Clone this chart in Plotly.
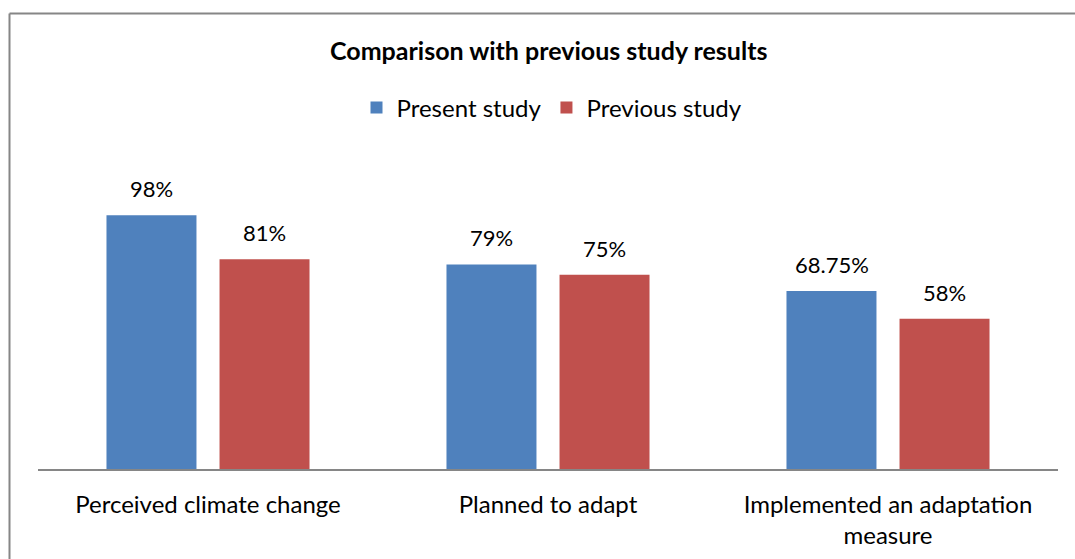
import plotly.graph_objects as go

categories = ["Perceived climate change", "Planned to adapt", "Implemented an adaptation<br>measure"]
present_values = [98, 79, 68.75]
previous_values = [81, 75, 58]
present_labels = ["98%", "79%", "68.75%"]
previous_labels = ["81%", "75%", "58%"]
series_names = ["Present study", "Previous study"]
colors = ["#4F81BD", "#C0504D"]

FONT = "Lato"
W, H = 1075, 559
L, R, T, B = 38, 17, 210, 90
plot_w = W - L - R
plot_h = H - T - B

fig = go.Figure()
fig.add_trace(go.Bar(x=categories, y=present_values, name=series_names[0],
                     marker=dict(color=colors[0], line=dict(width=0))))
fig.add_trace(go.Bar(x=categories, y=previous_values, name=series_names[1],
                     marker=dict(color=colors[1], line=dict(width=0))))

annotations = []
slot = 113
for vals, labs, shift in [(present_values, present_labels, -slot / 2), (previous_values, previous_labels, slot / 2)]:
    for c, v, t in zip(categories, vals, labs):
        annotations.append(dict(x=c, y=v, xref="x", yref="y", text=t, showarrow=False,
                                xshift=shift, yshift=11, yanchor="bottom",
                                font=dict(family=FONT, size=22, color="#000000")))

annotations.append(dict(x=(548 - L) / plot_w, y=(H - B - 50) / plot_h, xref="paper", yref="paper",
                        text="<b>Comparison with previous study results</b>", showarrow=False,
                        xanchor="center", yanchor="middle",
                        font=dict(family=FONT, size=25, color="#000000")))

# frame (left and top edges visible)
frame_x0 = (9.5 - L) / plot_w
frame_y1 = (H - B - 13.5) / plot_h

fig.update_layout(
    width=W, height=H,
    margin=dict(l=L, r=R, t=T, b=B, autoexpand=False),
    paper_bgcolor="white", plot_bgcolor="white",
    barmode="group", bargap=0.335, bargroupgap=0.204,
    showlegend=True,
    legend=dict(orientation="h", x=(552 - L) / plot_w, xanchor="center",
                y=(H - B - 108) / plot_h, yanchor="middle",
                font=dict(family=FONT, size=24, color="#000000"),
                itemwidth=30, itemsizing="constant", traceorder="normal"),
    annotations=annotations,
    shapes=[dict(type="line", xref="paper", yref="paper", x0=frame_x0, x1=frame_x0,
                 y0=-1.0, y1=frame_y1, line=dict(color="#868686", width=2), layer="below"),
            dict(type="line", xref="paper", yref="paper", x0=frame_x0, x1=1.5,
                 y0=frame_y1, y1=frame_y1, line=dict(color="#868686", width=2), layer="below")],
    xaxis=dict(showline=True, linecolor="#868686", linewidth=1.5, ticks="",
               tickfont=dict(family=FONT, size=24, color="#000000"),
               ticklabelstandoff=13, showgrid=False),
    yaxis=dict(range=[0, 100], visible=False, showgrid=False, zeroline=False),
    font=dict(family=FONT),
)
fig.write_html("out.html", config={"displayModeBar": False},
               post_script="document.body.style.margin='0';")
